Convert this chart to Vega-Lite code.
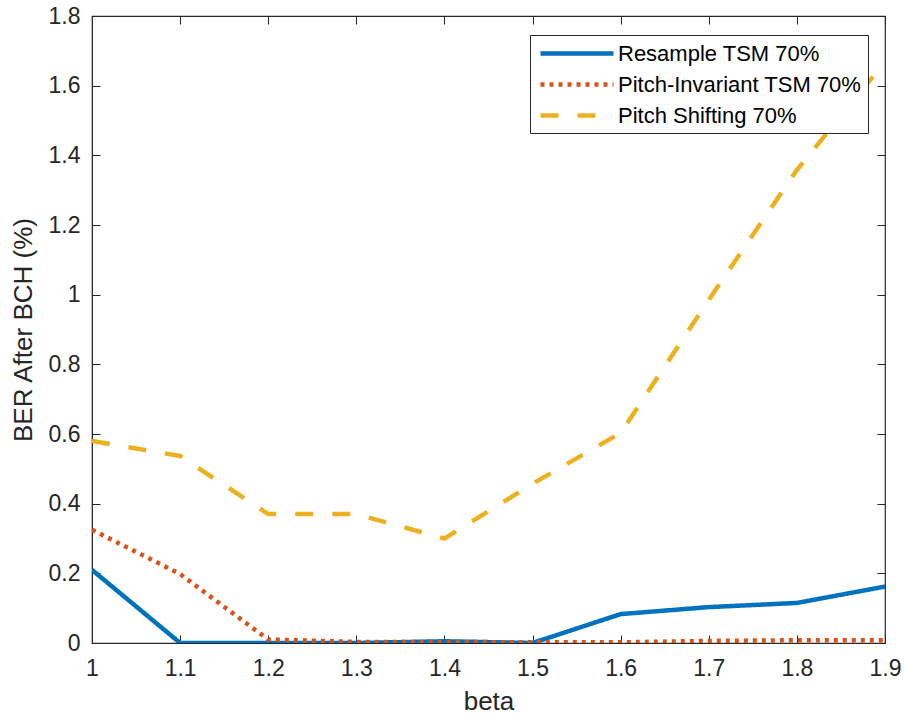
{
  "$schema": "https://vega.github.io/schema/vega-lite/v6.json",
  "width": 793,
  "height": 627,
  "autosize": {"type": "none"},
  "padding": {"left": 92, "top": 16, "right": 19, "bottom": 72},
  "background": "white",
  "config": {
    "font": "Liberation Sans",
    "view": {"stroke": "#262626", "strokeWidth": 1.2},
    "axis": {
      "grid": false,
      "domainColor": "#262626",
      "tickColor": "#262626",
      "labelColor": "#262626",
      "titleColor": "#262626",
      "labelFont": "Liberation Sans",
      "titleFont": "Liberation Sans",
      "labelFontSize": 23,
      "titleFontSize": 26,
      "titleFontWeight": "normal",
      "tickSize": -8,
      "labelFlush": false,
      "labelOverlap": false
    },
    "legend": {
      "title": null,
      "labelLimit": 0
    }
  },
  "data": {
    "values": [
      {"beta": 1.0, "ber": 0.21, "series": "Resample TSM 70%"},
      {"beta": 1.1, "ber": 0.0, "series": "Resample TSM 70%"},
      {"beta": 1.2, "ber": 0.0, "series": "Resample TSM 70%"},
      {"beta": 1.3, "ber": 0.0, "series": "Resample TSM 70%"},
      {"beta": 1.4, "ber": 0.005, "series": "Resample TSM 70%"},
      {"beta": 1.5, "ber": 0.0, "series": "Resample TSM 70%"},
      {"beta": 1.6, "ber": 0.083, "series": "Resample TSM 70%"},
      {"beta": 1.7, "ber": 0.103, "series": "Resample TSM 70%"},
      {"beta": 1.8, "ber": 0.115, "series": "Resample TSM 70%"},
      {"beta": 1.9, "ber": 0.162, "series": "Resample TSM 70%"},
      {"beta": 1.0, "ber": 0.325, "series": "Pitch-Invariant TSM 70%"},
      {"beta": 1.1, "ber": 0.198, "series": "Pitch-Invariant TSM 70%"},
      {"beta": 1.2, "ber": 0.01, "series": "Pitch-Invariant TSM 70%"},
      {"beta": 1.3, "ber": 0.003, "series": "Pitch-Invariant TSM 70%"},
      {"beta": 1.4, "ber": 0.003, "series": "Pitch-Invariant TSM 70%"},
      {"beta": 1.5, "ber": 0.002, "series": "Pitch-Invariant TSM 70%"},
      {"beta": 1.6, "ber": 0.002, "series": "Pitch-Invariant TSM 70%"},
      {"beta": 1.7, "ber": 0.006, "series": "Pitch-Invariant TSM 70%"},
      {"beta": 1.8, "ber": 0.008, "series": "Pitch-Invariant TSM 70%"},
      {"beta": 1.9, "ber": 0.008, "series": "Pitch-Invariant TSM 70%"},
      {"beta": 1.0, "ber": 0.58, "series": "Pitch Shifting 70%"},
      {"beta": 1.1, "ber": 0.537, "series": "Pitch Shifting 70%"},
      {"beta": 1.2, "ber": 0.37, "series": "Pitch Shifting 70%"},
      {"beta": 1.3, "ber": 0.37, "series": "Pitch Shifting 70%"},
      {"beta": 1.4, "ber": 0.30, "series": "Pitch Shifting 70%"},
      {"beta": 1.5, "ber": 0.457, "series": "Pitch Shifting 70%"},
      {"beta": 1.6, "ber": 0.603, "series": "Pitch Shifting 70%"},
      {"beta": 1.7, "ber": 0.985, "series": "Pitch Shifting 70%"},
      {"beta": 1.8, "ber": 1.358, "series": "Pitch Shifting 70%"},
      {"beta": 1.9, "ber": 1.668, "series": "Pitch Shifting 70%"}
    ]
  },
  "layer": [
    {
      "mark": {"type": "line", "strokeWidth": 4.5, "strokeCap": "butt", "clip": true},
      "encoding": {
        "x": {
          "field": "beta", "type": "quantitative",
          "scale": {"domain": [1, 1.9], "nice": false, "zero": false},
          "axis": {"title": "beta", "values": [1, 1.1, 1.2, 1.3, 1.4, 1.5, 1.6, 1.7, 1.8, 1.9], "format": ".1~f", "labelPadding": 22, "titlePadding": 8}
        },
        "y": {
          "field": "ber", "type": "quantitative",
          "scale": {"domain": [0, 1.8], "nice": false},
          "axis": {"title": "BER After BCH (%)", "values": [0, 0.2, 0.4, 0.6, 0.8, 1, 1.2, 1.4, 1.6, 1.8], "format": ".1~f", "labelPadding": 20, "titlePadding": 12}
        },
        "color": {
          "field": "series", "type": "nominal",
          "scale": {"domain": ["Resample TSM 70%", "Pitch-Invariant TSM 70%", "Pitch Shifting 70%"], "range": ["#0072BD", "#D95319", "#EDB120"]},
          "legend": {
            "title": null,
            "orient": "none",
            "legendX": 438,
            "legendY": 19,
            "direction": "vertical",
            "fillColor": "white",
            "strokeColor": "#262626",
            "padding": 6,
            "symbolType": "M-0.8,0H6.5",
            "symbolSize": 400,
            "symbolStrokeWidth": 4.5,
            "labelFontSize": 22,
            "labelFont": "Liberation Sans",
            "labelColor": "#000000",
            "labelOffset": 57,
            "labelLimit": 0,
            "rowPadding": 7
          }
        },
        "strokeDash": {
          "field": "series", "type": "nominal",
          "scale": {"domain": ["Resample TSM 70%", "Pitch-Invariant TSM 70%", "Pitch Shifting 70%"], "range": [[1, 0], [4, 5], [18, 19]]},
          "legend": {
            "title": null,
            "orient": "none",
            "legendX": 438,
            "legendY": 19,
            "direction": "vertical",
            "fillColor": "white",
            "strokeColor": "#262626",
            "padding": 6,
            "symbolType": "M-0.8,0H6.5",
            "symbolSize": 400,
            "symbolStrokeWidth": 4.5,
            "labelFontSize": 22,
            "labelFont": "Liberation Sans",
            "labelColor": "#000000",
            "labelOffset": 57,
            "labelLimit": 0,
            "rowPadding": 7
          }
        }
      }
    },
    {
      "mark": {"type": "line", "opacity": 0},
      "encoding": {
        "x": {
          "field": "beta", "type": "quantitative",
          "axis": {"orient": "top", "title": null, "labels": false, "domain": false, "values": [1, 1.1, 1.2, 1.3, 1.4, 1.5, 1.6, 1.7, 1.8, 1.9]}
        },
        "y": {
          "field": "ber", "type": "quantitative",
          "axis": {"orient": "right", "title": null, "labels": false, "domain": false, "values": [0, 0.2, 0.4, 0.6, 0.8, 1, 1.2, 1.4, 1.6, 1.8]}
        },
        "detail": {"field": "series", "type": "nominal"}
      }
    }
  ],
  "resolve": {"axis": {"x": "independent", "y": "independent"}}
}
